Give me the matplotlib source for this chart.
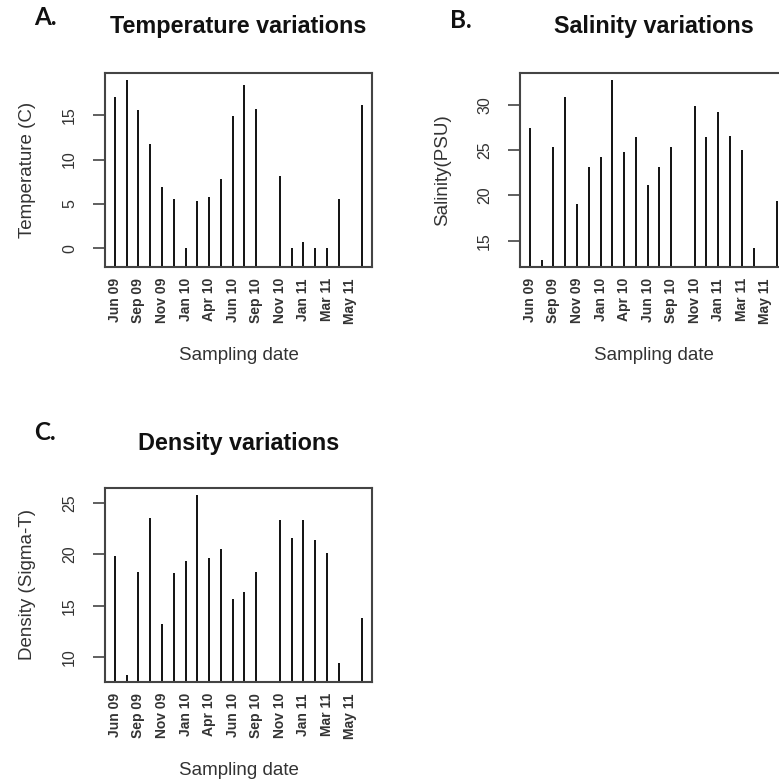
import matplotlib
matplotlib.use("Agg")
import matplotlib.pyplot as plt
import numpy as np

plt.rcParams['font.family'] = ['Liberation Sans', 'DejaVu Sans']

nan = np.nan

# sample number (monthly sampling, two gaps)
sample_no = np.arange(1, 23)

temperature = [17.0, 19.0, 15.6, 11.7, 6.9, 5.5, 0.0, 5.3, 5.8, 7.8, 14.9,
               18.4, 15.7, nan, 8.2, 0.0, 0.7, 0.0, 0.0, 5.5, nan, 16.1]
salinity = [27.4, 12.9, 25.3, 30.8, 19.1, 23.1, 24.2, 32.7, 24.8, 26.4, 21.1,
            23.1, 25.3, nan, 29.9, 26.4, 29.2, 26.6, 25.0, 14.2, nan, 19.4]
density = [19.8, 8.3, 18.3, 23.5, 13.2, 18.2, 19.4, 25.8, 19.6, 20.5, 15.7,
           16.3, 18.3, nan, 23.3, 21.6, 23.3, 21.4, 20.1, 9.4, nan, 13.8]

tick_pos = [1, 3, 5, 7, 9, 11, 13, 15, 17, 19, 21]
tick_labels = ['Jun 09', 'Sep 09', 'Nov 09', 'Jan 10', 'Apr 10', 'Jun 10',
               'Sep 10', 'Nov 10', 'Jan 11', 'Mar 11', 'May 11']

panels = [
    # letter, title, ylabel, values, yticks, ylim, axes rect
    ('A.', 'Temperature variations', 'Temperature (C)', temperature,
     [0, 5, 10, 15], (-2.1, 19.75), [0.1348, 0.6586, 0.3428, 0.2481]),
    ('B.', 'Salinity variations', 'Salinity(PSU)', salinity,
     [15, 20, 25, 30], (12.1, 33.5), [0.6675, 0.6586, 0.3428, 0.2481]),
    ('C.', 'Density variations', 'Density (Sigma-T)', density,
     [10, 15, 20, 25], (7.6, 26.45), [0.1348, 0.1279, 0.3428, 0.2481]),
]
# offsets (figure fraction) of title / letter baselines above the axes top
title_off = {'A.': 0.0511, 'B.': 0.0511, 'C.': 0.0486}
letter_off = {'A.': 0.0614, 'B.': 0.0575, 'C.': 0.0613}

fig = plt.figure(figsize=(7.79, 7.82), dpi=100)

for letter, title, ylabel, vals, yticks, ylim, rect in panels:
    ax = fig.add_axes(rect)
    ax.set_xlim(0.16, 22.84)
    ax.set_ylim(*ylim)
    ax.vlines(sample_no, ylim[0] - 1, vals, color='#111111', lw=1.4)

    for s in ax.spines.values():
        s.set_color('#444444')
        s.set_linewidth(1.5)

    ax.set_yticks(yticks)
    ax.tick_params(axis='y', length=9, width=1.2, color='#444444',
                   labelsize=11.5, labelcolor='#333333', pad=11,
                   labelrotation=90)
    for lab in ax.get_yticklabels():
        lab.set_va('center')

    ax.set_xticks(tick_pos)
    ax.set_xticklabels(tick_labels, rotation=90, fontsize=10,
                       fontweight='bold', color='#333333')
    ax.tick_params(axis='x', length=0, pad=8)

    ax.set_xlabel('Sampling date', fontsize=13.5, color='#333333', labelpad=17)
    ax.set_ylabel(ylabel, fontsize=13.5, color='#333333', labelpad=19)

    # title and panel letter placed relative to the axes box
    x0, y0, w, h = rect
    fig.text(x0 + w / 2, y0 + h + title_off[letter], title, ha='center',
             va='baseline', fontsize=16.8, fontweight='bold', color='#111111')
    fig.text(x0 - 0.0765, y0 + h + letter_off[letter], letter, ha='center',
             va='baseline', fontsize=17.5, fontweight='bold', family='Lato',
             color='#111111')

fig.savefig('out.png', dpi=100)
